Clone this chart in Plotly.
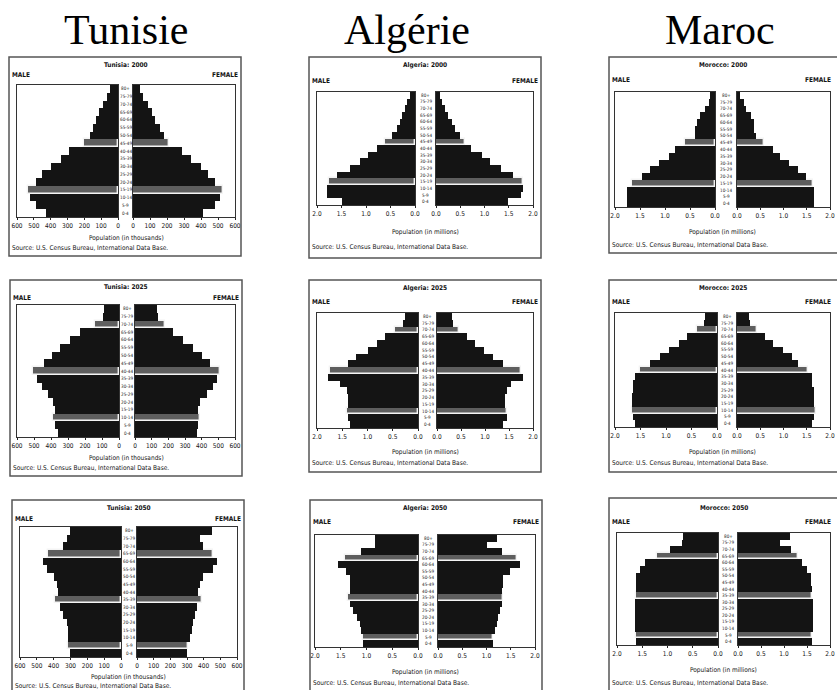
import plotly.graph_objects as go

W, H = 837, 690

# ---------------- data ----------------
age_groups = ["0-4", "5-9", "10-14", "15-19", "20-24", "25-29", "30-34", "35-39",
              "40-44", "45-49", "50-54", "55-59", "60-64", "65-69", "70-74", "75-79", "80+"]

country_headers = ["Tunisie", "Algérie", "Maroc"]
country_names = ["Tunisia", "Algeria", "Morocco"]
years = [2000, 2025, 2050]

# values from 0-4 (first) up to 80+ (last)
# Tunisia: thousands
tun_2000_male = [430, 490, 520, 534, 490, 450, 400, 340, 290, 200, 166, 150, 130, 110, 90, 66, 50]
tun_2000_female = [410, 480, 510, 530, 480, 440, 400, 340, 290, 210, 180, 160, 130, 110, 90, 60, 40]
tun_2025_male = [357, 376, 386, 376, 386, 415, 454, 483, 503, 444, 395, 347, 288, 230, 142, 95, 90]
tun_2025_female = [370, 380, 390, 380, 390, 430, 470, 490, 510, 450, 400, 350, 290, 230, 180, 140, 130]
tun_2050_male = [302, 312, 312, 312, 322, 342, 362, 392, 372, 382, 401, 441, 461, 431, 342, 322, 302]
tun_2050_female = [298, 308, 318, 328, 338, 348, 358, 388, 368, 378, 398, 457, 477, 457, 398, 378, 447]

# Algeria: millions
alg_2000_male = [1.49, 1.80, 1.80, 1.76, 1.59, 1.32, 1.12, 0.95, 0.78, 0.61, 0.47, 0.37, 0.31, 0.27, 0.20, 0.17, 0.10]
alg_2000_female = [1.49, 1.76, 1.79, 1.79, 1.59, 1.35, 1.11, 0.94, 0.73, 0.60, 0.49, 0.39, 0.32, 0.25, 0.18, 0.12, 0.08]
alg_2025_male = [1.35, 1.38, 1.41, 1.38, 1.38, 1.41, 1.55, 1.78, 1.74, 1.38, 1.22, 0.99, 0.82, 0.66, 0.46, 0.30, 0.26]
alg_2025_female = [1.38, 1.45, 1.45, 1.41, 1.41, 1.45, 1.55, 1.79, 1.76, 1.38, 1.17, 0.97, 0.79, 0.62, 0.45, 0.34, 0.31]
alg_2050_male = [1.06, 1.06, 1.10, 1.13, 1.19, 1.26, 1.32, 1.35, 1.32, 1.32, 1.32, 1.39, 1.55, 1.42, 1.10, 0.84, 0.84]
alg_2050_female = [1.14, 1.14, 1.17, 1.21, 1.24, 1.28, 1.31, 1.34, 1.31, 1.34, 1.34, 1.48, 1.69, 1.62, 1.31, 1.00, 1.21]

# Morocco: millions
mar_2000_male = [1.77, 1.77, 1.77, 1.67, 1.47, 1.30, 1.13, 0.93, 0.80, 0.60, 0.40, 0.40, 0.37, 0.30, 0.20, 0.13, 0.10]
mar_2000_female = [1.66, 1.66, 1.66, 1.63, 1.49, 1.32, 1.12, 0.92, 0.78, 0.58, 0.41, 0.37, 0.37, 0.31, 0.20, 0.14, 0.07]
mar_2025_male = [1.61, 1.64, 1.67, 1.67, 1.67, 1.64, 1.64, 1.61, 1.51, 1.31, 1.11, 0.95, 0.75, 0.59, 0.39, 0.26, 0.23]
mar_2025_female = [1.62, 1.66, 1.69, 1.66, 1.66, 1.66, 1.62, 1.62, 1.52, 1.32, 1.18, 0.98, 0.77, 0.60, 0.43, 0.29, 0.26]
mar_2050_male = [1.63, 1.63, 1.64, 1.64, 1.64, 1.64, 1.64, 1.63, 1.63, 1.62, 1.62, 1.54, 1.44, 1.21, 0.95, 0.72, 0.69]
mar_2050_female = [1.61, 1.61, 1.62, 1.62, 1.62, 1.62, 1.62, 1.61, 1.60, 1.59, 1.58, 1.51, 1.40, 1.30, 1.16, 0.91, 1.12]

# tracked cohorts (highlighted rows), by year
highlight_2000 = ["15-19", "45-49"]
highlight_2025 = ["10-14", "40-44", "70-74"]
highlight_2050 = ["5-9", "35-39", "65-69"]

tun_ticks = [0, 100, 200, 300, 400, 500, 600]
tun_ticktext = ["0", "100", "200", "300", "400", "500", "600"]
mil_ticks = [0, 0.5, 1.0, 1.5, 2.0]
mil_ticktext = ["0.0", "0.5", "1.0", "1.5", "2.0"]

# ---------------- structure ----------------
series = {
    ("Tunisia", 2000): (tun_2000_male, tun_2000_female),
    ("Tunisia", 2025): (tun_2025_male, tun_2025_female),
    ("Tunisia", 2050): (tun_2050_male, tun_2050_female),
    ("Algeria", 2000): (alg_2000_male, alg_2000_female),
    ("Algeria", 2025): (alg_2025_male, alg_2025_female),
    ("Algeria", 2050): (alg_2050_male, alg_2050_female),
    ("Morocco", 2000): (mar_2000_male, mar_2000_female),
    ("Morocco", 2025): (mar_2025_male, mar_2025_female),
    ("Morocco", 2050): (mar_2050_male, mar_2050_female),
}
highlights = {2000: highlight_2000, 2025: highlight_2025, 2050: highlight_2050}

# panel geometry in pixels
geom = {
    ("Tunisia", 2000): dict(box=(9, 241, 57, 256), title=65, mf=75, plot=(85, 217), male=(17, 118), female=(133, 235), axt=238, src=248),
    ("Tunisia", 2025): dict(box=(10, 242, 280, 476), title=287, mf=298, plot=(305, 437), male=(17, 119), female=(135, 235), axt=458, src=468),
    ("Tunisia", 2050): dict(box=(12, 244, 500, 700), title=508, mf=519, plot=(527, 657), male=(20, 121), female=(137, 237), axt=677, src=686),
    ("Algeria", 2000): dict(box=(309, 541, 57, 258), title=65, mf=81, plot=(92, 205), male=(317, 415), female=(436, 533), axt=232, src=247),
    ("Algeria", 2025): dict(box=(309, 541, 280, 472), title=288, mf=302, plot=(313, 428), male=(317, 418), female=(437, 533), axt=452, src=463),
    ("Algeria", 2050): dict(box=(310, 542, 500, 700), title=508, mf=522, plot=(535, 647), male=(315, 418), female=(438, 535), axt=672, src=683),
    ("Morocco", 2000): dict(box=(609, 842, 57, 253), title=65, mf=80, plot=(92, 207), male=(615, 715), female=(737, 830), axt=232, src=245),
    ("Morocco", 2025): dict(box=(609, 842, 280, 472), title=288, mf=302, plot=(313, 427), male=(615, 717), female=(737, 830), axt=452, src=463),
    ("Morocco", 2050): dict(box=(609, 842, 498, 700), title=508, mf=522, plot=(533, 645), male=(617, 718), female=(738, 830), axt=670, src=683),
}


def px(v):
    return v / W


def py(v):
    return 1 - v / H


SANS = "Liberation Sans Narrow, DejaVu Sans Condensed, Arial Narrow, Liberation Sans, sans-serif"
SERIF = "Liberation Serif, DejaVu Serif, serif"
INK = "#141414"

fig = go.Figure()
layout = {}
annotations = []
shapes = []

n = 0
for country in country_names:
    for year in years:
        g = geom[(country, year)]
        male, female = series[(country, year)]
        is_tun = country == "Tunisia"
        rmax = 600 if is_tun else 2.0
        tv = tun_ticks if is_tun else mil_ticks
        tt = tun_ticktext if is_tun else mil_ticktext
        hl = highlights[year]
        colors = ["#5e5e5e" if a in hl else INK for a in age_groups]
        lcolors = ["#f4f4f4" if a in hl else INK for a in age_groups]
        lwidths = [1.4 if a in hl else 0 for a in age_groups]
        top, bot = g["plot"]
        for side, vals, dom in (("m", male, g["male"]), ("f", female, g["female"])):
            n += 1
            xa = "x" if n == 1 else f"x{n}"
            ya = "y" if n == 1 else f"y{n}"
            fig.add_trace(go.Bar(
                x=vals, y=age_groups, orientation="h", xaxis=xa, yaxis=ya,
                marker=dict(color=colors, line=dict(color=lcolors, width=lwidths)),
                hoverinfo="x+y", showlegend=False,
            ))
            xkey = "xaxis" if n == 1 else f"xaxis{n}"
            ykey = "yaxis" if n == 1 else f"yaxis{n}"
            layout[xkey] = dict(
                domain=[px(dom[0]), px(dom[1])], anchor=ya, automargin=False,
                range=[rmax, 0] if side == "m" else [0, rmax],
                tickmode="array", tickvals=tv, ticktext=tt, ticks="outside", ticklen=2,
                tickwidth=1, tickcolor="#222", tickfont=dict(family=SANS, size=6.5, color=INK),
                showline=True, mirror=True, linecolor="#333", linewidth=1,
                showgrid=False, zeroline=False, fixedrange=True,
            )
            layout[ykey] = dict(
                domain=[py(bot), py(top)], anchor=xa, type="category", automargin=False,
                categoryorder="array", categoryarray=age_groups, range=[-0.5, 16.5],
                showticklabels=False, ticks="", showline=True, mirror=True,
                linecolor="#333", linewidth=1, showgrid=False, zeroline=False,
                fixedrange=True,
            )
            if side == "f":
                gap_c = (g["male"][1] + g["female"][0]) / 2
                for a in age_groups:
                    annotations.append(dict(
                        x=px(gap_c), y=a, xref="paper", yref=ya, text=a, showarrow=False,
                        xanchor="center", yanchor="middle",
                        font=dict(family=SANS, size=4.6, color="#222"),
                    ))
        bx0, bx1, by0, by1 = g["box"]
        shapes.append(dict(type="rect", xref="paper", yref="paper",
                           x0=px(bx0), x1=px(bx1), y0=py(by1), y1=py(by0),
                           line=dict(color="#555", width=1.5)))
        pc = (g["male"][0] + g["female"][1]) / 2
        annotations.append(dict(x=px(pc), y=py(g["title"]), xref="paper", yref="paper",
                                text=f"<b>{country}: {year}</b>", showarrow=False,
                                xanchor="center", yanchor="middle",
                                font=dict(family=SANS, size=6.5, color=INK)))
        annotations.append(dict(x=px(bx0 + 1), y=py(g["mf"]), xref="paper", yref="paper",
                                text="<b>MALE</b>", showarrow=False, xanchor="left", yanchor="middle",
                                font=dict(family=SANS, size=6.5, color=INK)))
        annotations.append(dict(x=px(min(bx1 - 1, W - 4)), y=py(g["mf"]), xref="paper", yref="paper",
                                text="<b>FEMALE</b>", showarrow=False, xanchor="right", yanchor="middle",
                                font=dict(family=SANS, size=6.5, color=INK)))
        annotations.append(dict(x=px(pc), y=py(g["axt"]), xref="paper", yref="paper",
                                text="Population (in thousands)" if is_tun else "Population (in millions)",
                                showarrow=False, xanchor="center", yanchor="middle",
                                font=dict(family=SANS, size=6.5, color=INK)))
        annotations.append(dict(x=px(bx0 + 1), y=py(g["src"]), xref="paper", yref="paper",
                                text="Source: U.S. Census Bureau, International Data Base.",
                                showarrow=False, xanchor="left", yanchor="middle",
                                font=dict(family=SANS, size=6.5, color=INK)))

# column headers
header_x = [126, 407, 720]
for name, hx in zip(country_headers, header_x):
    annotations.append(dict(x=px(hx), y=py(30), xref="paper", yref="paper", text=name,
                            showarrow=False, xanchor="center", yanchor="middle",
                            font=dict(family=SERIF, size=42, color="#000000")))

fig.update_layout(
    template="none",
    width=W, height=H, margin=dict(l=0, r=0, t=0, b=0, autoexpand=False),
    paper_bgcolor="white", plot_bgcolor="white", font=dict(family=SANS, color=INK),
    bargap=0, showlegend=False, annotations=annotations, shapes=shapes,
    **layout,
)

fig.write_html(
    "out.html",
    config={"responsive": False, "displayModeBar": False},
    post_script="document.body.style.margin='0';document.body.style.overflow='hidden';",
)
